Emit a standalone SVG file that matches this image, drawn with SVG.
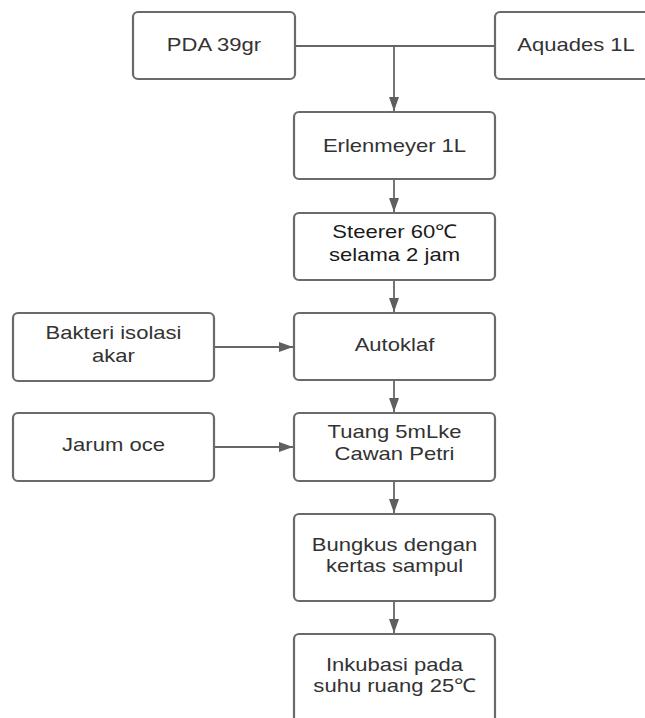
<svg xmlns="http://www.w3.org/2000/svg" width="645" height="718" viewBox="0 0 645 718">
<style>
.box{fill:#fff;stroke:#6a6a6a;stroke-width:2.2}
.t{font-family:"Liberation Sans",Arial,sans-serif;font-size:19px;fill:#333;text-anchor:middle;transform-box:fill-box;transform-origin:center;transform:scaleX(1.16)}
.dk{fill:#1a1a1a}
.ln{fill:none;stroke:#666;stroke-width:1.8}
</style>
<defs>
<marker id="ah" markerUnits="userSpaceOnUse" markerWidth="14" markerHeight="10" refX="14" refY="5" orient="auto">
<path d="M0,0 L14,5 L0,10 Z" fill="#5f5f5f"/>
</marker>
</defs>
<rect width="645" height="718" fill="#fff"/>
<g id="connectors">
<path class="ln" d="M295,46 H495"/>
<path class="ln" d="M394,46 V111" marker-end="url(#ah)"/>
<path class="ln" d="M394,179 V212" marker-end="url(#ah)"/>
<path class="ln" d="M394,280 V312" marker-end="url(#ah)"/>
<path class="ln" d="M394,380 V412" marker-end="url(#ah)"/>
<path class="ln" d="M394,481 V513" marker-end="url(#ah)"/>
<path class="ln" d="M394,601 V633" marker-end="url(#ah)"/>
<path class="ln" d="M214,347 H293" marker-end="url(#ah)"/>
<path class="ln" d="M214,447 H293" marker-end="url(#ah)"/>
</g>
<g id="pda"><rect class="box" x="133" y="12" width="162" height="67" rx="5"/><text class="t" x="214" y="51">PDA 39gr</text></g>
<g id="aquades"><rect class="box" x="495" y="12" width="162" height="67" rx="5"/><text class="t" x="576" y="51">Aquades 1L</text></g>
<g id="erlenmeyer"><rect class="box" x="294" y="112" width="201" height="67" rx="5"/><text class="t" x="394.5" y="152">Erlenmeyer 1L</text></g>
<g id="steerer"><rect class="box" x="294" y="213" width="201" height="67" rx="5"/><text class="t dk" x="394.5" y="238">Steerer 60℃</text><text class="t dk" x="394.5" y="261">selama 2 jam</text></g>
<g id="bakteri"><rect class="box" x="13" y="313" width="201" height="68" rx="5"/><text class="t" x="113.5" y="339">Bakteri isolasi</text><text class="t" x="113.5" y="362">akar</text></g>
<g id="autoklaf"><rect class="box" x="294" y="313" width="201" height="67" rx="5"/><text class="t" x="394.5" y="351">Autoklaf</text></g>
<g id="jarum"><rect class="box" x="13" y="413" width="201" height="68" rx="5"/><text class="t" x="113.5" y="451">Jarum oce</text></g>
<g id="tuang"><rect class="box" x="294" y="413" width="201" height="68" rx="5"/><text class="t" x="394.5" y="438">Tuang 5mLke</text><text class="t" x="394.5" y="460">Cawan Petri</text></g>
<g id="bungkus"><rect class="box" x="294" y="514" width="201" height="87" rx="5"/><text class="t" x="394.5" y="551">Bungkus dengan</text><text class="t" x="394.5" y="572">kertas sampul</text></g>
<g id="inkubasi"><rect class="box" x="294" y="634" width="201" height="90" rx="5"/><text class="t" x="394.5" y="671">Inkubasi pada</text><text class="t" x="394.5" y="692">suhu ruang 25℃</text></g>
</svg>
